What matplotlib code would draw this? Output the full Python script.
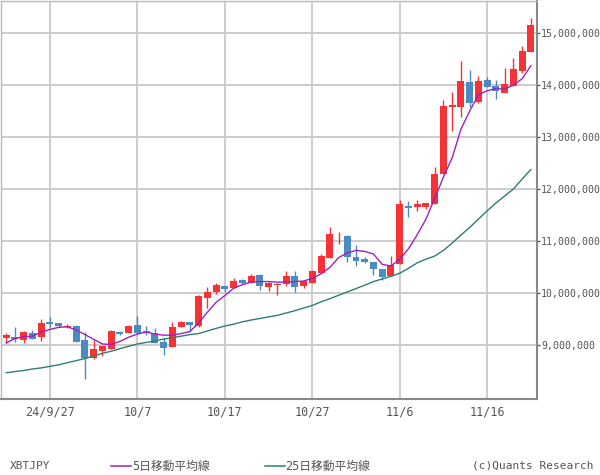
import numpy as np
import pandas as pd
import matplotlib
matplotlib.use("Agg")
import matplotlib.pyplot as plt
from matplotlib.lines import Line2D

# XBTJPY daily candles, values in 万円 (10,000 JPY)
dates = pd.date_range("2024-09-22", "2024-11-21")

open_ = [913, 915, 910, 923, 915, 944, 942, 935, 937, 910,
         875, 888, 892, 925, 923, 938, 927, 923, 906, 896,
         935, 944, 937, 991, 1002, 1013, 1010, 1025, 1020, 1035,
         1012, 1016, 1018, 1033, 1014, 1020, 1039, 1068, 1111, 1110,
         1069, 1065, 1059, 1046, 1033, 1055, 1168, 1165, 1166, 1171,
         1229, 1357, 1358, 1406, 1368, 1410, 1399, 1385, 1399, 1427,
         1464]
close = [919, 912, 925, 912, 942, 940, 937, 937, 906, 875,
         892, 898, 927, 921, 937, 923, 923, 904, 894, 935,
         944, 938, 994, 1002.5, 1016, 1008, 1023, 1020, 1033, 1014,
         1020, 1018, 1033, 1012, 1023, 1042, 1071, 1113, 1112, 1070,
         1062, 1059, 1046, 1031, 1054, 1171, 1163, 1171, 1174, 1229,
         1360, 1361.5, 1408, 1366, 1408, 1397, 1389, 1402, 1431, 1465,
         1515]
high = [923, 935, 927, 929, 950, 954, 943, 940, 938, 925,
        910, 898, 928, 927, 938, 956, 937, 933, 913, 944,
        946, 944, 996, 1012, 1020, 1013, 1029, 1026, 1037, 1037,
        1022, 1020, 1042, 1042, 1025, 1044, 1075, 1127, 1118, 1112,
        1092, 1070, 1059, 1046, 1072, 1179, 1176, 1179, 1174, 1243,
        1372, 1387, 1446, 1429, 1417, 1416, 1410, 1432, 1452, 1475,
        1529]
low = [904, 906, 904, 911, 908, 935, 935, 933, 906, 835,
       874, 879, 892, 919, 923, 923, 919, 903, 881, 896,
       935, 925, 935, 972, 999, 1001, 1010, 1017, 1020, 1006,
       1004, 996, 1014, 1001, 1010, 1020, 1039, 1068, 1094, 1060,
       1051, 1057, 1035, 1025, 1033, 1055, 1146, 1158, 1161, 1171,
       1229, 1312, 1339, 1358, 1365, 1396, 1373, 1385, 1399, 1423,
       1464]
ma5 = [904, 912.5, 916, 917, 925, 930, 934, 935, 929, 920,
       911, 902, 901, 907, 915, 921, 925, 921, 919, 919,
       922, 926, 942, 963, 982, 995, 1009, 1016, 1021, 1022,
       1022, 1021, 1021, 1022, 1023, 1028, 1037, 1049, 1068, 1077,
       1082, 1080, 1075, 1055, 1052, 1065, 1085, 1112, 1142, 1182,
       1223, 1260, 1315, 1350, 1381, 1389, 1393, 1392, 1400, 1412,
       1437]
ma25 = [846.7, 849, 851, 854, 856, 859, 862, 866, 870, 874,
        879, 884, 888, 893, 897.5, 902, 905, 908, 911.5, 914,
        917, 920, 922, 927, 932, 936.5, 940, 944.6, 948, 951,
        954, 957, 961.5, 966, 971, 976, 983, 989, 995.6, 1002,
        1008.6, 1015, 1022, 1027, 1032, 1038, 1047.5, 1058, 1065, 1071,
        1082, 1096, 1111.5, 1126, 1142, 1158, 1173, 1186.5, 1200, 1219,
        1237.5]

tick_dates = ["2024-09-27", "2024-10-07", "2024-10-17", "2024-10-27", "2024-11-06", "2024-11-16"]
tick_labels = ["24/9/27", "10/7", "10/17", "10/27", "11/6", "11/16"]
y_ticks = [9000000, 10000000, 11000000, 12000000, 13000000, 14000000, 15000000]

o = np.array(open_) * 1e4
c = np.array(close) * 1e4
h = np.array(high) * 1e4
l = np.array(low) * 1e4
x = np.arange(len(dates))

up_col = "#F53336"
dn_col = "#4B8BC0"
txt_col = "#555555"
mono = ["DejaVu Sans Mono", "Noto Sans CJK JP"]

fig = plt.figure(figsize=(6, 4.75), dpi=100)
ax = fig.add_axes([1 / 600, 76 / 475, 536 / 600, 398 / 475])

cols = np.where(c >= o, up_col, dn_col)
ax.vlines(x, l, h, colors=cols, linewidth=1, zorder=3)
body = np.maximum(np.abs(c - o), 15000)
ax.bar(x, body, bottom=np.minimum(o, c), width=0.8, color=cols, linewidth=0, zorder=4)

ax.plot(x, np.array(ma5) * 1e4, color="#A020C0", linewidth=1.0, zorder=5)
ax.plot(x, np.array(ma25) * 1e4, color="#2E7D74", linewidth=1.0, zorder=5)

ax.set_xlim(-0.6, 60.7)
ax.set_ylim(7962000, 15615000)

tick_pos = dates.get_indexer(pd.to_datetime(tick_dates))
ax.set_xticks(tick_pos)
ax.set_xticklabels(tick_labels, family=mono, fontsize=8.5, color=txt_col)
ax.tick_params(axis="x", length=0, pad=5)

ax.yaxis.tick_right()
ax.set_yticks(y_ticks)
ax.set_yticklabels([f"{v:,}" for v in y_ticks], family=mono, fontsize=7.1, color=txt_col)
ax.tick_params(axis="y", length=2, width=1, color="#555555", pad=1)

ax.grid(True, color="#CCCCCC", linewidth=1.4, zorder=0)
ax.set_axisbelow(True)
for side in ["left", "top"]:
    ax.spines[side].set_color("#BBBBBB")
    ax.spines[side].set_linewidth(1)
for side in ["right", "bottom"]:
    ax.spines[side].set_color("#888888")
    ax.spines[side].set_linewidth(1.5)

# bottom legend row
ly = 1 - 466 / 475
fig.text(10 / 600, ly, "XBTJPY", family=mono, fontsize=8, color=txt_col, va="center")
fig.add_artist(Line2D([111 / 600, 131 / 600], [ly, ly], color="#A020C0", linewidth=1.1))
fig.text(132 / 600, ly, "5日移動平均線", family=mono, fontsize=8.5, color=txt_col, va="center")
fig.add_artist(Line2D([265 / 600, 285 / 600], [ly, ly], color="#2E7D74", linewidth=1.1))
fig.text(285 / 600, ly, "25日移動平均線", family=mono, fontsize=8.5, color=txt_col, va="center")
fig.text(594 / 600, ly, "(c)Quants Research", family=mono, fontsize=8, color=txt_col,
         va="center", ha="right")

fig.savefig("out.png", dpi=100)
